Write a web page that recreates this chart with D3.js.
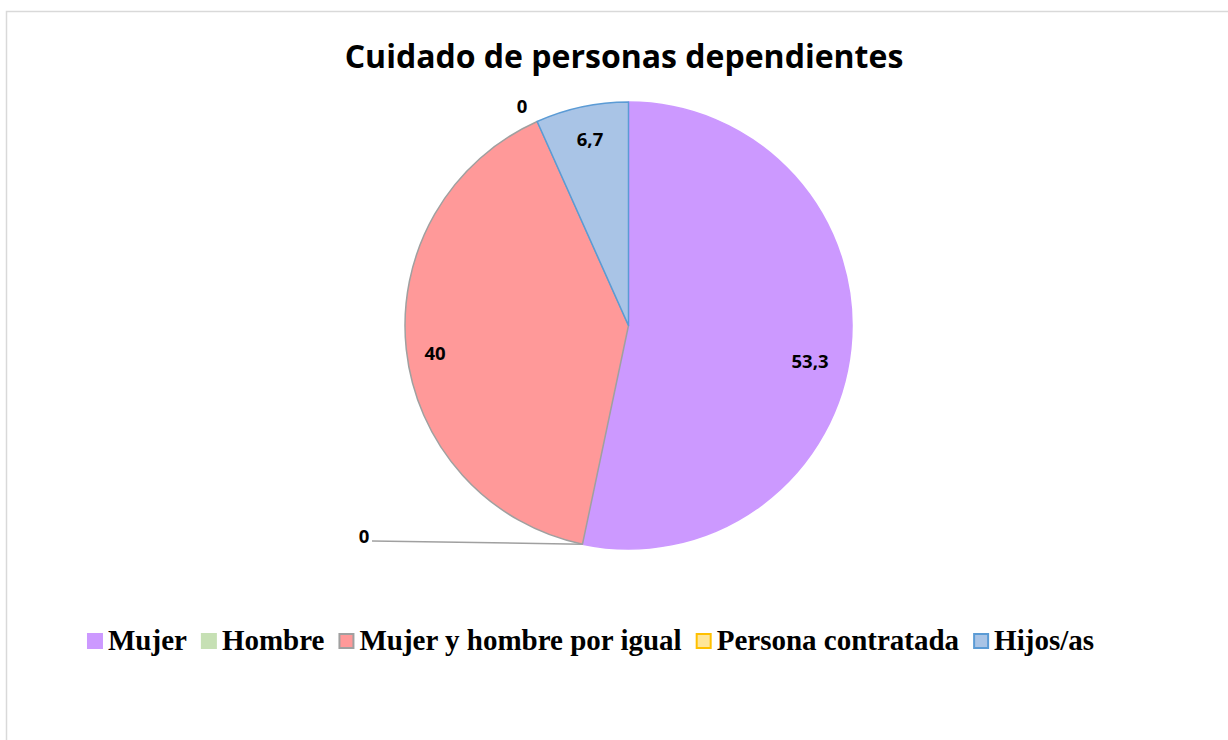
<!DOCTYPE html>
<html>
<head>
<meta charset="utf-8">
<script src="https://cdn.jsdelivr.net/npm/d3@7"></script>
<style>
  body { margin: 0; background: #fff; }
  svg { display: block; }
</style>
</head>
<body>
<div id="chart"></div>
<script>
// data
const categories = ["Mujer", "Hombre", "Mujer y hombre por igual", "Persona contratada", "Hijos/as"]
const values = [53.3, 0, 40, 0, 6.7]
const labels = ["53,3", "0", "40", "0", "6,7"]
const fills = ["#cc99ff", "#c6e0b4", "#ff9999", "#ffe699", "#a9c4e6"]
const strokes = ["#cc99ff", "#c6e0b4", "#a0a0a0", "#ffc000", "#5b9bd5"]

const W = 1228, H = 740
const cx = 628.5, cy = 325.5, r = 223.5

const svg = d3.select("#chart").append("svg")
  .attr("width", W)
  .attr("height", H)

// chart frame
svg.append("rect")
  .attr("x", 6.5).attr("y", 11.5)
  .attr("width", W).attr("height", H)
  .attr("fill", "none")
  .attr("stroke", "#d9d9d9")
  .attr("stroke-width", 1.5)

// title
svg.append("text")
  .attr("x", 624)
  .attr("y", 68)
  .attr("text-anchor", "middle")
  .style("font-family", "'Open Sans', sans-serif")
  .style("font-weight", "bold")
  .style("font-size", "32px")
  .text("Cuidado de personas dependientes")

const data = categories.map((c, i) => ({ name: c, value: values[i], label: labels[i], i: i }))

const pie = d3.pie().sort(null).value(d => d.value)
const arcs = pie(data)
const arc = d3.arc().innerRadius(0).outerRadius(r)

const g = svg.append("g").attr("transform", `translate(${cx},${cy})`)

g.selectAll("path")
  .data(arcs.filter(d => d.data.value > 0))
  .join("path")
  .attr("d", arc)
  .attr("fill", d => fills[d.data.i])
  .attr("stroke", d => strokes[d.data.i])
  .attr("stroke-width", 1.5)
  .attr("stroke-linejoin", "round")

// leader line for the zero "Hombre" slice
const hombre = arcs[1]
const [hx, hy] = [Math.sin(hombre.startAngle) * r, -Math.cos(hombre.startAngle) * r]
g.append("line")
  .attr("x1", hx).attr("y1", hy)
  .attr("x2", 372 - cx).attr("y2", 541 - cy)
  .attr("stroke", "#a0a0a0")
  .attr("stroke-width", 1.5)

// data labels
const labelPos = [
  [810, 360], // Mujer
  [364, 535], // Hombre
  [435, 352], // Mujer y hombre
  [522, 105], // Persona contratada
  [590, 138]  // Hijos/as
]
svg.selectAll("text.lab")
  .data(data)
  .join("text")
  .attr("class", "lab")
  .attr("x", d => labelPos[d.i][0])
  .attr("y", d => labelPos[d.i][1])
  .attr("text-anchor", "middle")
  .attr("dominant-baseline", "central")
  .style("font-family", "'Open Sans', sans-serif")
  .style("font-weight", "bold")
  .style("font-size", "18.5px")
  .text(d => d.label)

// legend
const legend = svg.append("g")
const fs = 29
const gap = 14
let x = 0
categories.forEach((c, i) => {
  const it = legend.append("g")
  it.append("rect")
    .attr("x", x + 1).attr("y", -16)
    .attr("width", 14).attr("height", 14)
    .attr("fill", fills[i])
    .attr("stroke", strokes[i])
    .attr("stroke-width", 2)
  const t = it.append("text")
    .attr("x", x + 21)
    .attr("y", 0)
    .style("font-family", "'Liberation Serif', 'Times New Roman', serif")
    .style("font-weight", "bold")
    .style("font-size", fs + "px")
    .text(c)
  x += 21 + t.node().getComputedTextLength() + gap
})
x -= gap
legend.attr("transform", `translate(${(86 + 1097) / 2 - x / 2 - 1},650)`)
</script>
</body>
</html>
